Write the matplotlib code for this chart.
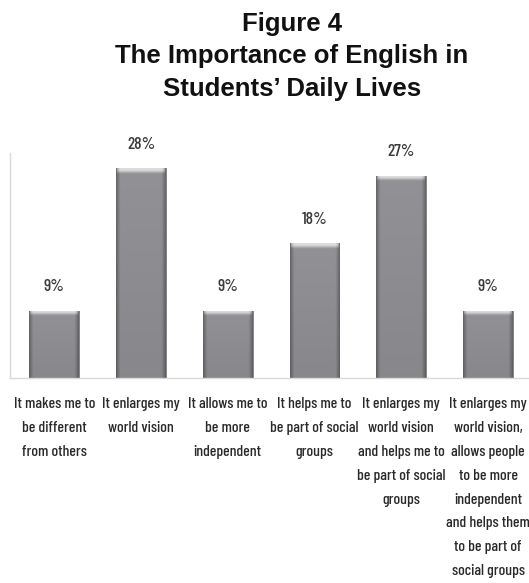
import numpy as np
import matplotlib
matplotlib.use("Agg")
import matplotlib.pyplot as plt
from matplotlib.colors import to_rgb

categories = [
    "It makes me to\nbe different\nfrom others",
    "It enlarges my\nworld vision",
    "It allows me to\nbe more\nindependent",
    "It helps me to\nbe part of social\ngroups",
    "It enlarges my\nworld vision\nand helps me to\nbe part of social\ngroups",
    "It enlarges my\nworld vision,\nallows people\nto be more\nindependent\nand helps them\nto be part of\nsocial groups",
]
values = [9, 28, 9, 18, 27, 9]
value_labels = ["9%", "28%", "9%", "18%", "27%", "9%"]
title = "Figure 4\nThe Importance of English in\nStudents\u2019 Daily Lives"

narrow = ["Barlow Condensed", "PT Sans Narrow", "DejaVu Sans"]

W, H = 529, 583
fig = plt.figure(figsize=(W / 100, H / 100), dpi=100)
fig.patch.set_facecolor("white")

fig.text(292 / W, 1 - 11.5 / H, title, ha="center", va="top", multialignment="center",
         family=["Liberation Sans", "DejaVu Sans"], fontweight="bold",
         fontsize=18.5, color="#111111", linespacing=1.47)

ax = fig.add_axes([10 / W, 1 - 378 / H, 518 / W, 225 / H])
x = np.arange(len(values))
bars = ax.bar(x, values, width=0.575, color="#8c8c90", edgecolor="#7a7a7e",
              linewidth=0.6, zorder=2)
ax.set_xlim(-0.51, 5.46)
ax.set_ylim(0, 30)

# gradient fill for bars (horizontal shading + light top bevel)
ncol, nrow = 60, 300
cx = np.linspace(0, 1, ncol)
edge = np.clip(np.minimum(cx, 1 - cx) / 0.08, 0, 1)
dark = np.array(to_rgb("#66666a"))
mid = np.array(to_rgb("#929296"))
light = np.array(to_rgb("#dcdcdc"))
for b in bars:
    x0, w, h = b.get_x(), b.get_width(), b.get_height()
    band = 0.7 / h
    ry = np.linspace(1, 0, nrow)
    base = dark[None, :] + (mid - dark)[None, :] * edge[:, None]
    vfac = 0.93 + 0.07 * ry
    img = base[None, :, :] * vfac[:, None, None]
    top = ry > 1 - band
    t = (ry[top] - (1 - band)) / band
    lt = np.clip(t * 1.6, 0, 1)
    for k, rowi in enumerate(np.where(top)[0]):
        a = lt[k] * edge[:, None] ** 0.5
        img[rowi] = img[rowi] * (1 - a) + light * a
    im = ax.imshow(img, extent=(x0, x0 + w, 0, h), aspect="auto", zorder=2.5,
                   interpolation="bilinear")
    im.set_clip_path(b)

for xi, v, lab in zip(x, values, value_labels):
    ax.annotate(lab, (xi, v), xytext=(0, 17), textcoords="offset points",
                ha="center", va="center", family=narrow, fontsize=12.5,
                fontweight="medium", color="#3a3a3a")

ax.set_xticks(x)
ax.set_xticklabels(categories, family=narrow, fontsize=11.3, fontweight="medium",
                   color="#2a2a2a", linespacing=1.89)
ax.tick_params(axis="x", length=0, pad=14)
ax.set_yticks([])
for s in ["top", "right"]:
    ax.spines[s].set_visible(False)
for s in ["left", "bottom"]:
    ax.spines[s].set_color("#d9d9d9")
    ax.spines[s].set_linewidth(1.0)

fig.savefig("out.png", dpi=100, facecolor="white")
